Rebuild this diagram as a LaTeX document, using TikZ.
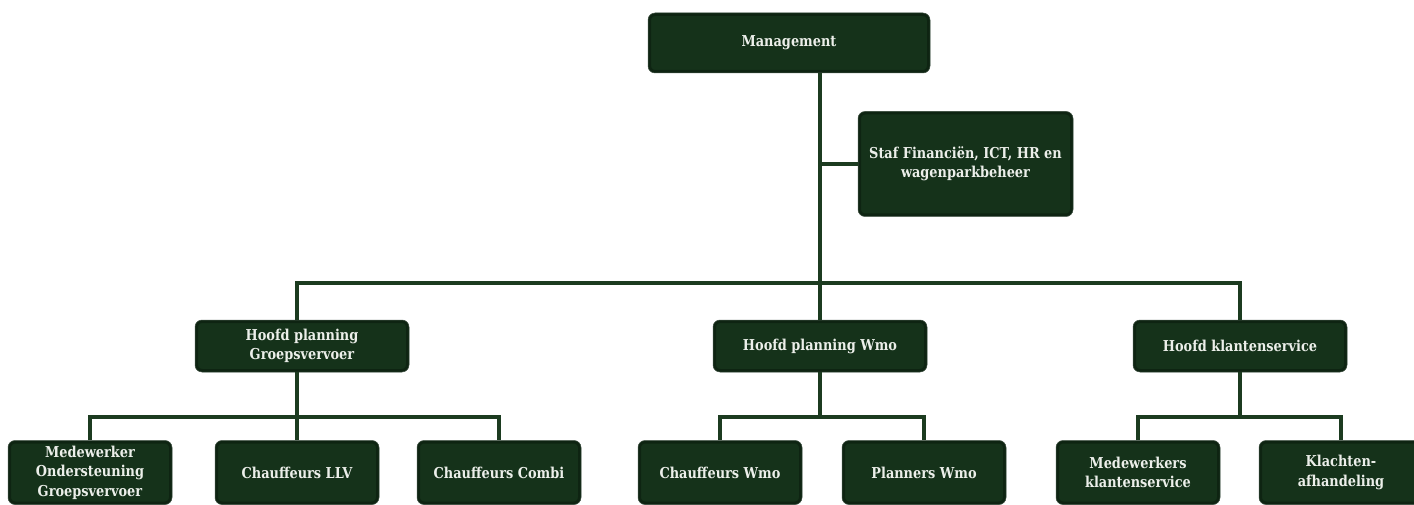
\documentclass[tikz,border=0pt]{standalone}
\usepackage{fontspec}
\setmainfont{DejaVu Serif}[FakeStretch=0.86]
\usepackage{xcolor}
\usepackage{tikz}
\definecolor{boxgreen}{HTML}{15321A}
\definecolor{boxdark}{HTML}{0A1C0D}
\definecolor{linegreen}{HTML}{1C3B20}
\definecolor{boxtext}{HTML}{ECEFEA}

\begin{document}
\begin{tikzpicture}[x=1pt, y=-1pt,
    unit/.style={draw=boxgreen!55!gray, line width=0.5pt, fill=boxgreen, rounded corners=7pt,
        text=boxtext, font=\bfseries\fontsize{15}{19.5}\selectfont, align=center, inner sep=0pt,
        path picture={\draw[boxdark, line width=6pt, opacity=0.6]
            (path picture bounding box.south west) rectangle (path picture bounding box.north east);}},
    head/.style={unit, minimum width=214pt, minimum height=52pt},
    staff/.style={unit, minimum width=164pt, minimum height=64pt},
    link/.style={draw=linegreen, line width=3.2pt}]
                        \clip (0,0) rectangle (1414,505);
                        \fill[white] (0,0) rectangle (1414,505);

                        \node[unit, minimum width=282pt, minimum height=60pt] (M) at (789,43) {Management};
                        \node[unit, minimum width=215pt, minimum height=105pt] (S) at (965.5,164) {Staf Financiën, ICT, HR en\\wagenparkbeheer};

                        \node[head] (G) at (302,346) {Hoofd planning\\Groepsvervoer};
                        \node[head] (W) at (820,346) {Hoofd planning Wmo};
                        \node[head] (K) at (1240,346) {Hoofd klantenservice};

                        \node[staff] (G1) at (90,472.5) {Medewerker\\Ondersteuning\\Groepsvervoer};
                        \node[staff] (G2) at (297,472.5) {Chauffeurs LLV};
                        \node[staff] (G3) at (499,472.5) {Chauffeurs Combi};
                        \node[staff] (W1) at (720,472.5) {Chauffeurs Wmo};
                        \node[staff] (W2) at (924,472.5) {Planners Wmo};
                        \node[staff] (K1) at (1138,472.5) {Medewerkers\\klantenservice};
                        \node[staff] (K2) at (1341,472.5) {Klachten-\\afhandeling};

                        \coordinate (T) at (820,73);
                        \coordinate (B) at (820,283);
                        \coordinate (GS) at (297,417);
                        \coordinate (WS) at (820,417);
                        \coordinate (KS) at (1240,417);

                        \draw[link] (T) -- (W.north);
                        \draw[link] (T |- S.west) -- (S.west);
                        \draw[link] (G2.north |- G.north) |- (B) -| (K.north);

                        \draw[link] (G2.north |- G.south) -- (G2.north);
                        \draw[link] (G1.north) |- (GS) -| (G3.north);
                        \draw[link] (W.south) -- (WS);
                        \draw[link] (W1.north) |- (WS) -| (W2.north);
                        \draw[link] (K.south) -- (KS);
                        \draw[link] (K1.north) |- (KS) -| (K2.north);
                    \end{tikzpicture}
\end{document}
